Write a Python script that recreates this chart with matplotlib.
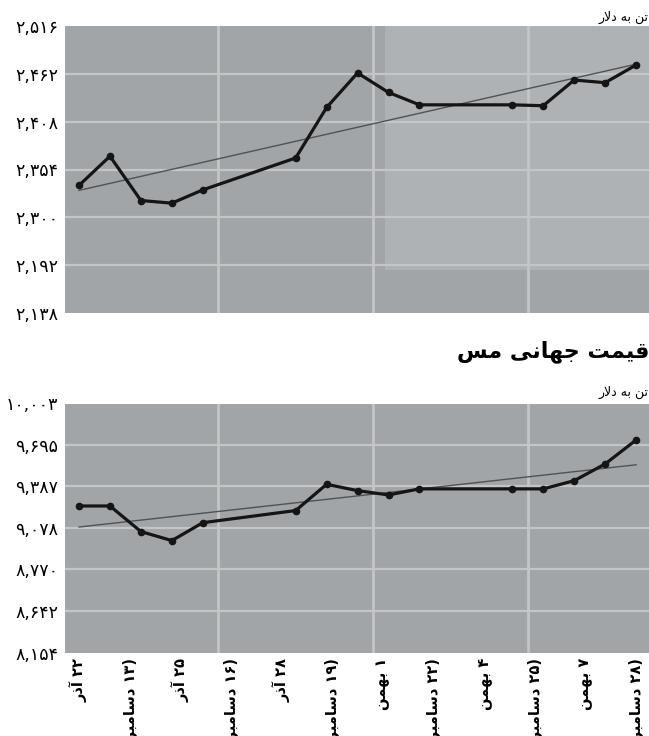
import re
import numpy as np
import matplotlib
matplotlib.use("Agg")
import matplotlib.pyplot as plt
from matplotlib.patches import Rectangle

# ---------------- data ----------------
day_index = [0, 1, 2, 3, 4, 7, 8, 9, 10, 11, 14, 15, 16, 17, 18]
aluminium = [2336, 2369, 2319, 2316, 2331, 2367, 2424, 2463, 2441, 2427, 2427, 2426, 2455, 2452, 2472]
copper = [9242, 9242, 9052, 8985, 9118, 9208, 9403, 9356, 9324, 9369, 9369, 9369, 9430, 9554, 9732]

top_ticks = [2516, 2462, 2408, 2354, 2300, 2246, 2192]
top_labels = ["۲,۵۱۶", "۲,۴۶۲", "۲,۴۰۸", "۲,۳۵۴", "۲,۳۰۰", "۲,۱۹۲", "۲,۱۳۸"]
bot_ticks = [10003, 9695, 9387, 9079, 8771, 8463, 8154]
bot_labels = ["۱۰,۰۰۳", "۹,۶۹۵", "۹,۳۸۷", "۹,۰۷۸", "۸,۷۷۰", "۸,۶۴۲", "۸,۱۵۴"]

x_labels = ["۲۲ آذر", "(۱۳ دسامبر)", "۲۵ آذر", "(۱۶ دسامبر)", "۲۸ آذر", "(۱۹ دسامبر)",
            "۱ بهمن", "(۲۲ دسامبر)", "۴ بهمن", "(۲۵ دسامبر)", "۷ بهمن", "(۲۸ دسامبر)"]
x_label_pos = list(np.linspace(0, 18, len(x_labels)))
grid_x = [4.5, 9.5, 14.5]

title_text = "قیمت جهانی مس"
unit_text = "تن به دلار"

# ------------- minimal Persian shaping -------------
FORMS = {
    '\u0627': ('\uFE8D', '\uFE8E', None, None),
    '\u0622': ('\uFE81', '\uFE82', None, None),
    '\u0628': ('\uFE8F', '\uFE90', '\uFE91', '\uFE92'),
    '\u062A': ('\uFE95', '\uFE96', '\uFE97', '\uFE98'),
    '\u062C': ('\uFE9D', '\uFE9E', '\uFE9F', '\uFEA0'),
    '\u062F': ('\uFEA9', '\uFEAA', None, None),
    '\u0630': ('\uFEAB', '\uFEAC', None, None),
    '\u0631': ('\uFEAD', '\uFEAE', None, None),
    '\u0633': ('\uFEB1', '\uFEB2', '\uFEB3', '\uFEB4'),
    '\u0642': ('\uFED5', '\uFED6', '\uFED7', '\uFED8'),
    '\u0644': ('\uFEDD', '\uFEDE', '\uFEDF', '\uFEE0'),
    '\u0645': ('\uFEE1', '\uFEE2', '\uFEE3', '\uFEE4'),
    '\u0646': ('\uFEE5', '\uFEE6', '\uFEE7', '\uFEE8'),
    '\u0647': ('\uFEE9', '\uFEEA', '\uFEEB', '\uFEEC'),
    '\u06CC': ('\uFBFC', '\uFBFD', '\uFBFE', '\uFBFF'),
}


def _dual(c):
    return c in FORMS and FORMS[c][2] is not None


def shape(s):
    ch = list(s)
    n = len(ch)
    out = []
    i = 0
    while i < n:
        c = ch[i]
        if c not in FORMS:
            out.append(c)
            i += 1
            continue
        jp = i > 0 and _dual(ch[i - 1])
        if c == '\u0644' and i + 1 < n and ch[i + 1] in ('\u0627', '\u0622'):
            lig = ('\uFEFB', '\uFEFC') if ch[i + 1] == '\u0627' else ('\uFEF5', '\uFEF6')
            out.append(lig[1] if jp else lig[0])
            i += 2
            continue
        jn = _dual(c) and i + 1 < n and ch[i + 1] in FORMS
        iso, fin, ini, med = FORMS[c]
        if jp and jn:
            f = med
        elif jp:
            f = fin
        elif jn:
            f = ini
        else:
            f = iso
        out.append(f)
        i += 1
    return out


def visual(s):
    v = shape(s)[::-1]
    v = "".join({'(': ')', ')': '('}.get(c, c) for c in v)
    return re.sub(r'[\d,]+', lambda m: m.group(0)[::-1], v)


# ---------------- figure ----------------
plt.rcParams['font.family'] = ['DejaVu Sans']
W, H = 649, 736
fig = plt.figure(figsize=(W / 100, H / 100), dpi=100)
fig.patch.set_facecolor('white')

BG = '#a2a5a8'
GRID = '#c3c5c7'
LINE = '#151515'
TREND = '#505355'

x_lo, x_hi = (65 - 79) / 30.95, (649 - 79) / 30.95

ax1 = fig.add_axes([65 / W, (H - 313) / H, (W - 65) / W, 287 / H])
ax2 = fig.add_axes([65 / W, (H - 652.5) / H, (W - 65) / W, 249 / H])


def style(ax, ticks, labels):
    ax.set_facecolor(BG)
    for s in ax.spines.values():
        s.set_visible(False)
    ax.set_xlim(x_lo, x_hi)
    ax.set_ylim(ticks[-1], ticks[0])
    ax.set_yticks(ticks, labels=labels, fontsize=12.5)
    ax.tick_params(axis='y', length=0, pad=5)
    for t in ticks[1:-1]:
        ax.axhline(t, color=GRID, lw=1.6, zorder=1)
    for g in grid_x:
        ax.axvline(g, color=GRID, lw=2.0, zorder=1)


def draw(ax, vals):
    x = np.array(day_index, dtype=float)
    y = np.array(vals, dtype=float)
    k, b = np.polyfit(x, y, 1)
    ax.plot([x[0], x[-1]], [k * x[0] + b, k * x[-1] + b], color=TREND, lw=1.0, zorder=2)
    ax.plot(x, y, color=LINE, lw=2.3, marker='o', markersize=4.5, zorder=3,
            solid_joinstyle='round')


style(ax1, top_ticks, top_labels)
ax1.add_patch(Rectangle((0.548, 0.15), 0.452, 0.85, transform=ax1.transAxes,
                        facecolor='#afb2b4', edgecolor='none', zorder=0.5))
ax1.set_xticks([])
draw(ax1, aluminium)

style(ax2, bot_ticks, bot_labels)
ax2.set_xticks(x_label_pos, labels=[visual(s) for s in x_labels], rotation=90,
               fontsize=10.5, fontweight='bold')
ax2.tick_params(axis='x', length=0, pad=4)
draw(ax2, copper)

fig.text(1.0, 1 - 17 / H, visual(unit_text), ha='right', va='center', fontsize=9)
fig.text(1.0, 1 - 392 / H, visual(unit_text), ha='right', va='center', fontsize=9)
fig.text(1.0, 1 - 352 / H, visual(title_text), ha='right', va='center', fontsize=16,
         fontweight='bold')

fig.savefig('out.png', dpi=100, facecolor='white')
